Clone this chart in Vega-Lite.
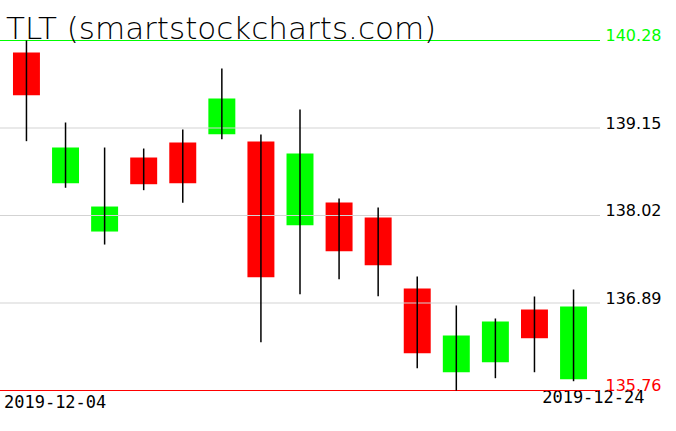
{
  "$schema": "https://vega.github.io/schema/vega-lite/v6.json",
  "width": 600,
  "height": 391,
  "autosize": {"type": "none"},
  "padding": {"left": 0, "top": 0, "right": 76, "bottom": 40},
  "background": "white",
  "config": {"view": {"stroke": null}},
  "datasets": {
    "prices": [
      {"date": "2019-12-04", "open": 140.125, "high": 140.28, "low": 138.98, "close": 139.574},
      {"date": "2019-12-05", "open": 138.437, "high": 139.221, "low": 138.378, "close": 138.898},
      {"date": "2019-12-06", "open": 137.813, "high": 138.898, "low": 137.645, "close": 138.136},
      {"date": "2019-12-09", "open": 138.769, "high": 138.885, "low": 138.347, "close": 138.424},
      {"date": "2019-12-10", "open": 138.963, "high": 139.131, "low": 138.184, "close": 138.437},
      {"date": "2019-12-11", "open": 139.07, "high": 139.918, "low": 139.005, "close": 139.531},
      {"date": "2019-12-12", "open": 138.976, "high": 139.066, "low": 136.384, "close": 137.223},
      {"date": "2019-12-13", "open": 137.895, "high": 139.389, "low": 137.004, "close": 138.821},
      {"date": "2019-12-16", "open": 138.188, "high": 138.239, "low": 137.197, "close": 137.559},
      {"date": "2019-12-17", "open": 137.994, "high": 138.123, "low": 136.978, "close": 137.378},
      {"date": "2019-12-18", "open": 137.077, "high": 137.232, "low": 136.048, "close": 136.242},
      {"date": "2019-12-19", "open": 135.996, "high": 136.858, "low": 135.76, "close": 136.47},
      {"date": "2019-12-20", "open": 136.125, "high": 136.69, "low": 135.919, "close": 136.651},
      {"date": "2019-12-23", "open": 136.806, "high": 136.974, "low": 135.996, "close": 136.435},
      {"date": "2019-12-24", "open": 135.906, "high": 137.064, "low": 135.88, "close": 136.845}
    ],
    "levels": [
      {"level": 140.28, "kind": "high"},
      {"level": 139.15, "kind": "grid"},
      {"level": 138.02, "kind": "grid"},
      {"level": 136.89, "kind": "grid"},
      {"level": 135.76, "kind": "low"}
    ]
  },
  "layer": [
    {
      "data": {"name": "prices"},
      "mark": {"type": "bar"},
      "encoding": {
        "x": {
          "field": "date",
          "type": "ordinal",
          "sort": null,
          "scale": {"paddingInner": 0.31, "paddingOuter": 0.332},
          "axis": {
            "orient": "bottom",
            "title": null,
            "domain": false,
            "ticks": false,
            "grid": false,
            "values": ["2019-12-04", "2019-12-24"],
            "labelAngle": 0,
            "labelFont": "DejaVu Sans Mono",
            "labelFontSize": 17,
            "labelColor": "black",
            "labelBaseline": "top",
            "labelAlign": {"condition": {"test": "datum.value == '2019-12-04'", "value": "left"}, "value": "right"},
            "labelOffset": {"condition": {"test": "datum.value == '2019-12-04'", "value": -22.5}, "value": 71},
            "labelPadding": {"condition": {"test": "datum.value == '2019-12-04'", "value": 3}, "value": -2}
          }
        },
        "y": {
          "field": "open",
          "type": "quantitative",
          "scale": {"domain": [135.7536, 140.8031], "nice": false, "zero": false},
          "axis": {
            "orient": "right",
            "title": null,
            "domain": false,
            "ticks": false,
            "grid": false,
            "values": [135.76, 136.89, 138.02, 139.15, 140.28],
            "format": ".2f",
            "labelPadding": 5,
            "labelBaseline": "alphabetic",
            "labelFont": "DejaVu Sans",
            "labelFontSize": 16,
            "labelColor": {
              "condition": [
                {"test": "datum.value > 140", "value": "#00ff00"},
                {"test": "datum.value < 136", "value": "#ff0000"}
              ],
              "value": "black"
            }
          }
        },
        "y2": {"field": "close"},
        "color": {
          "condition": {"test": "datum.close < datum.open", "value": "#ff0000"},
          "value": "#00ff00"
        }
      }
    },
    {
      "data": {"name": "levels"},
      "mark": {"type": "rule", "strokeWidth": 1},
      "encoding": {
        "y": {"field": "level", "type": "quantitative"},
        "color": {
          "field": "kind",
          "type": "nominal",
          "scale": {"domain": ["high", "grid", "low"], "range": ["#00ff00", "#d3d3d3", "#ff0000"]},
          "legend": null
        }
      }
    },
    {
      "data": {"name": "prices"},
      "mark": {"type": "rule", "color": "black", "strokeWidth": 1.5},
      "encoding": {
        "x": {"field": "date", "type": "ordinal", "sort": null},
        "y": {"field": "high", "type": "quantitative"},
        "y2": {"field": "low"}
      }
    },
    {
      "data": {"values": [{"label": "TLT (smartstockcharts.com)", "date": "2019-12-04", "level": 140.28}]},
      "mark": {
        "type": "text",
        "align": "left",
        "baseline": "alphabetic",
        "dx": -20.5,
        "dy": -1.5,
        "font": "DejaVu Sans ExtraLight, DejaVu Sans",
        "fontWeight": 200,
        "fontSize": 31,
        "letterSpacing": 0.3,
        "color": "black"
      },
      "encoding": {
        "x": {"field": "date", "type": "ordinal", "sort": null},
        "y": {"field": "level", "type": "quantitative"},
        "text": {"field": "label"}
      }
    }
  ]
}
